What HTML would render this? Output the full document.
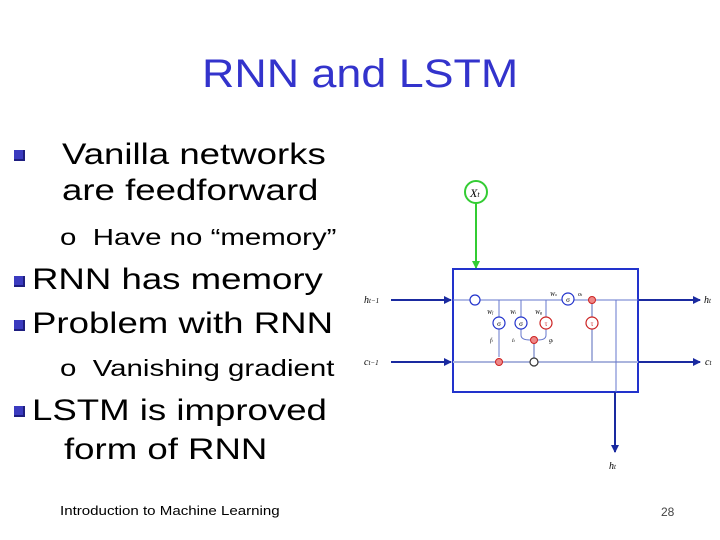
<!DOCTYPE html>
<html><head><style>
body{margin:0;width:720px;height:540px;background:#fff;position:relative;overflow:hidden;font-family:"Liberation Sans",sans-serif}
.t{position:absolute;white-space:nowrap;color:#000;transform-origin:0 0}
.m{transform:scaleX(1.22)}
.s{transform:scaleX(1.28)}
.b{position:absolute;width:11px;height:11px;background:#3b3bbf;box-shadow:inset -2px -2px 0 #1e1e80}
</style></head><body>
<div class="t" style="left:202px;top:52px;font-size:40px;color:#3333cc;transform:scaleX(1.12)">RNN and LSTM</div>
<div class="b" style="left:14px;top:150px"></div>
<div class="t m" style="left:62px;top:138px;font-size:30px">Vanilla networks</div>
<div class="t m" style="left:62px;top:174px;font-size:30px">are feedforward</div>
<div class="t s" style="left:60px;top:224px;font-size:23px">o&nbsp; Have no “memory”</div>
<div class="b" style="left:14px;top:276px"></div>
<div class="t m" style="left:32px;top:263px;font-size:30px">RNN has memory</div>
<div class="b" style="left:14px;top:320px"></div>
<div class="t m" style="left:32px;top:307px;font-size:30px">Problem with RNN</div>
<div class="t s" style="left:60px;top:355px;font-size:23px">o&nbsp; Vanishing gradient</div>
<div class="b" style="left:14px;top:406px"></div>
<div class="t m" style="left:32px;top:394px;font-size:30px">LSTM is improved</div>
<div class="t m" style="left:64px;top:433px;font-size:30px">form of RNN</div>
<div class="t" style="left:60px;top:503px;font-size:13px;transform:scaleX(1.16)">Introduction to Machine Learning</div>
<div class="t" style="left:661px;top:505px;font-size:12px;color:#444">28</div>
<svg width="720" height="540" style="position:absolute;left:0;top:0" font-family="Liberation Serif" font-style="italic">
<defs><marker id="a" markerUnits="userSpaceOnUse" markerWidth="8" markerHeight="8" refX="7" refY="4" orient="auto"><path d="M0,0L8,4L0,8z" fill="#1a2aa0"/></marker>
<marker id="g" markerUnits="userSpaceOnUse" markerWidth="8" markerHeight="8" refX="7" refY="4" orient="auto"><path d="M0,0L8,4L0,8z" fill="#33cc33"/></marker></defs>
<circle cx="476" cy="192" r="11" fill="#fff" stroke="#33cc33" stroke-width="2"/>
<text x="470" y="197" font-size="12">X<tspan font-size="8">t</tspan></text>
<line x1="476" y1="203" x2="476" y2="268" stroke="#33cc33" stroke-width="2" marker-end="url(#g)"/>
<rect x="453" y="269" width="185" height="123" fill="none" stroke="#2233cc" stroke-width="2"/>
<line x1="391" y1="300" x2="451" y2="300" stroke="#1a2aa0" stroke-width="2" marker-end="url(#a)"/>
<line x1="391" y1="362" x2="451" y2="362" stroke="#1a2aa0" stroke-width="2" marker-end="url(#a)"/>
<line x1="639" y1="300" x2="700" y2="300" stroke="#1a2aa0" stroke-width="2" marker-end="url(#a)"/>
<line x1="639" y1="362" x2="700" y2="362" stroke="#1a2aa0" stroke-width="2" marker-end="url(#a)"/>
<line x1="615" y1="392" x2="615" y2="452" stroke="#1a2aa0" stroke-width="2" marker-end="url(#a)"/>
<g stroke="#6677cc" stroke-width="1" fill="none">
<line x1="453" y1="300" x2="638" y2="300"/>
<line x1="453" y1="362" x2="638" y2="362" stroke="#aab4dd" stroke-width="2"/>
<line x1="499" y1="300" x2="499" y2="357"/>
<line x1="521" y1="300" x2="521" y2="335"/>
<line x1="546" y1="300" x2="546" y2="335"/>
<path d="M521,335 Q521,340 530,340 M546,335 Q546,340 538,340"/>
<line x1="534" y1="340" x2="534" y2="362" stroke="#aab4dd" stroke-width="2"/>
<line x1="592" y1="300" x2="592" y2="362" stroke="#aab4dd" stroke-width="2"/>
<line x1="616" y1="300" x2="616" y2="392"/>
</g>
<g fill="#fff" stroke-width="1.2">
<circle cx="475" cy="300" r="5" stroke="#2233cc"/>
<circle cx="499" cy="323" r="6" stroke="#2233cc"/>
<circle cx="521" cy="323" r="6" stroke="#2233cc"/>
<circle cx="546" cy="323" r="6" stroke="#cc2222"/>
<circle cx="568" cy="299" r="6" stroke="#2233cc"/>
<circle cx="592" cy="323" r="6" stroke="#cc2222"/>
<circle cx="534" cy="362" r="4" stroke="#333"/>
</g>
<g fill="#ee8888" stroke="#cc2222" stroke-width="1"><circle cx="592" cy="300" r="3.5"/><circle cx="534" cy="340" r="3.5"/><circle cx="499" cy="362" r="3.5"/></g>
<g font-size="7" text-anchor="middle" font-style="normal"><text x="499" y="326">σ</text><text x="521" y="326">σ</text><text x="546" y="326" fill="#c22">τ</text><text x="568" y="302">σ</text><text x="592" y="326" fill="#c22">τ</text></g>
<g font-size="6"><text x="487" y="314">W<tspan font-size="4">f</tspan></text><text x="510" y="314">W<tspan font-size="4">i</tspan></text><text x="535" y="314">W<tspan font-size="4">g</tspan></text><text x="550" y="296">W<tspan font-size="4">o</tspan></text><text x="578" y="296">o<tspan font-size="4">t</tspan></text><text x="490" y="342">f<tspan font-size="4">t</tspan></text><text x="512" y="342">i<tspan font-size="4">t</tspan></text><text x="549" y="342">g<tspan font-size="4">t</tspan></text></g>
<g font-size="10"><text x="364" y="303">h<tspan font-size="7">t−1</tspan></text><text x="364" y="365">c<tspan font-size="7">t−1</tspan></text><text x="704" y="303">h<tspan font-size="7">t</tspan></text><text x="705" y="365">c<tspan font-size="7">t</tspan></text><text x="609" y="469">h<tspan font-size="7">t</tspan></text></g>
</svg>
</body></html>
